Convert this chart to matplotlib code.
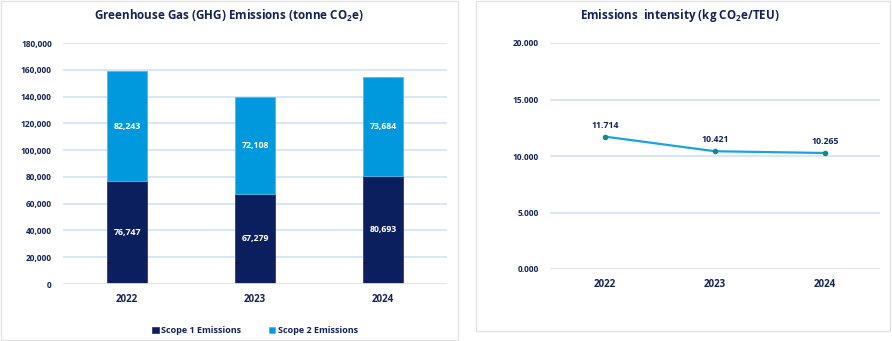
import matplotlib.pyplot as plt
from matplotlib.patches import Rectangle
from matplotlib.ticker import FuncFormatter

plt.rcParams['font.family'] = ['Open Sans', 'DejaVu Sans']
plt.rcParams['mathtext.default'] = 'regular'

years = ['2022', '2023', '2024']
scope1 = [76747, 67279, 80693]
scope2 = [82243, 72108, 73684]
intensity = [11.714, 10.421, 10.265]

navy = '#0B1F5E'
sky = '#0099DD'
text_col = '#14245A'
grid_col = '#D3E4FA'
base_col = '#E4E4E4'

fig = plt.figure(figsize=(8.92, 3.41), dpi=100)
W, H = 892, 341

# panel frames
for x0, y0, x1, y1 in [(1, 1, 458, 340), (476, 1, 890, 331)]:
    fig.patches.append(Rectangle((x0 / W, 1 - y1 / H), (x1 - x0) / W, (y1 - y0) / H,
                                 transform=fig.transFigure, fill=False,
                                 edgecolor='#E2E2E2', linewidth=1))


def px_axes(x0, y0, x1, y1):
    return fig.add_axes([x0 / W, 1 - y1 / H, (x1 - x0) / W, (y1 - y0) / H])


def style(ax):
    for s in ax.spines.values():
        s.set_visible(False)
    ax.tick_params(length=0, colors=text_col)
    ax.grid(axis='y', color=grid_col, linewidth=1.3)
    ax.set_axisbelow(True)
    for lab in ax.get_xticklabels():
        lab.set_fontsize(7)
        lab.set_fontweight('bold')
    for lab in ax.get_yticklabels():
        lab.set_fontsize(6)
        lab.set_fontweight('bold')


# stacked bar chart
ax1 = px_axes(63, 43, 447, 284)
x = range(len(years))
ax1.bar(x, scope1, width=0.31, color=navy, edgecolor='#2A3E7A', linewidth=0.6,
        label='Scope 1 Emissions')
ax1.bar(x, scope2, bottom=scope1, width=0.31, color=sky, edgecolor='#4FB8E8',
        linewidth=0.6, label='Scope 2 Emissions')
for i in x:
    ax1.text(i, scope1[i] / 2, f'{scope1[i]:,}', ha='center', va='center',
             color='white', fontsize=6.3, fontweight='bold')
    ax1.text(i, scope1[i] + scope2[i] / 2, f'{scope2[i]:,}', ha='center', va='center',
             color='white', fontsize=6.3, fontweight='bold')
ax1.set_xlim(-0.5, 2.5)
ax1.set_ylim(0, 180000)
ax1.set_yticks(range(0, 180001, 20000))
ax1.yaxis.set_major_formatter(FuncFormatter(lambda v, p: f'{int(v):,}'))
ax1.set_xticks(list(x))
ax1.set_xticklabels(years)
ax1.axhline(0, color=base_col, linewidth=2, zorder=1)
style(ax1)
ax1.tick_params(axis='x', pad=7)
ax1.tick_params(axis='y', pad=8)
ax1.legend(loc='upper center', bbox_to_anchor=(0.5, -0.14), ncol=2, frameon=False,
           handlelength=0.7, handleheight=0.7, columnspacing=3,
           handletextpad=0.3, labelcolor=text_col, prop={'weight': 'bold', 'size': 6.5})
fig.text(229 / W, 1 - 16 / H, 'Greenhouse Gas (GHG) Emissions (tonne CO$_2$e)',
         ha='center', va='center', fontsize=8.4, fontweight='bold', color=text_col)

# intensity line chart
ax2 = px_axes(550, 43, 880, 269)
ax2.plot(x, intensity, color='#1AA3E0', linewidth=1.6, marker='o', markersize=3,
         markerfacecolor='#168A8A', markeredgecolor='#168A8A')
for i in x:
    ax2.annotate(f'{intensity[i]:.3f}', (i, intensity[i]), xytext=(0, 5),
                 textcoords='offset points', ha='center', va='bottom',
                 fontsize=6.3, fontweight='bold', color=text_col)
ax2.set_xlim(-0.5, 2.5)
ax2.set_ylim(0, 20)
ax2.set_yticks([0, 5, 10, 15, 20])
ax2.yaxis.set_major_formatter(FuncFormatter(lambda v, p: f'{v:.3f}'))
ax2.set_xticks(list(x))
ax2.set_xticklabels(years)
ax2.axhline(0, color=base_col, linewidth=2, zorder=1)
style(ax2)
ax2.tick_params(axis='x', pad=7)
ax2.tick_params(axis='y', pad=8)
fig.text(680 / W, 1 - 16 / H, 'Emissions  intensity (kg CO$_2$e/TEU)',
         ha='center', va='center', fontsize=8.4, fontweight='bold', color=text_col)

fig.savefig('out.png', dpi=100, facecolor='white')
